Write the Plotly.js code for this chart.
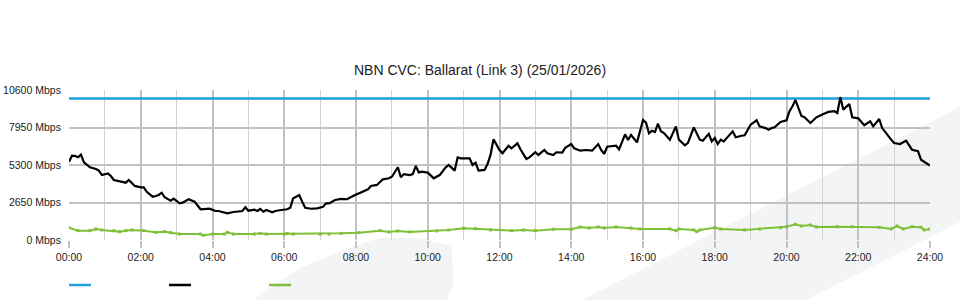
<!DOCTYPE html>
<html>
<head>
<meta charset="utf-8">
<script src="https://cdn.plot.ly/plotly-3.0.1.min.js"></script>
<style>
  html, body { margin: 0; padding: 0; background: #ffffff; }
  #chart { width: 960px; height: 300px; }
</style>
</head>
<body>
<div id="chart"></div>
<script>
// ---- data (minutes since midnight, Mbps) ----
const chartTitle = "NBN CVC: Ballarat (Link 3) (25/01/2026)";

const capacityMinutes = [0, 1440];
const capacityMbps = [10000, 10000];

const trafficMinutes = [
  0, 5, 10, 15, 20, 25, 35, 45, 50, 55, 65, 70, 75, 85, 95, 100, 110, 120, 125, 130,
  140, 145, 150, 155, 160, 170, 175, 185, 190, 200, 205, 210, 220, 230, 235, 245, 250, 265, 275, 290,
  295, 300, 310, 315, 320, 325, 330, 340, 345, 355, 365, 370, 375, 380, 385, 390, 395, 405, 415, 425,
  430, 435, 445, 455, 465, 475, 485, 500, 505, 515, 525, 535, 540, 550, 555, 560, 570, 575, 580, 585,
  590, 600, 610, 620, 630, 635, 645, 650, 655, 670, 675, 680, 685, 695, 700, 705, 710, 720, 725, 735,
  740, 750, 755, 765, 770, 780, 785, 795, 800, 810, 815, 825, 830, 840, 845, 855, 865, 875, 885, 890,
  895, 900, 915, 920, 930, 935, 940, 950, 960, 965, 970, 975, 980, 985, 990, 995, 1005, 1015, 1020, 1030,
  1035, 1045, 1055, 1060, 1070, 1075, 1080, 1085, 1090, 1095, 1110, 1115, 1125, 1130, 1140, 1150, 1155, 1165, 1170, 1175,
  1180, 1190, 1200, 1205, 1210, 1215, 1225, 1230, 1240, 1250, 1260, 1270, 1280, 1285, 1290, 1295, 1305, 1310, 1320, 1330,
  1340, 1345, 1355, 1360, 1375, 1380, 1390, 1400, 1410, 1420, 1425, 1435, 1440
];
const trafficMbps = [
  5530, 5960, 5940, 5850, 6030, 5490, 5140, 5020, 4900, 4590, 4710, 4520, 4240, 4120, 4050, 4240, 3820, 3720, 3720, 3410,
  3060, 3110, 3180, 3340, 3020, 2780, 2920, 2590, 2640, 2880, 2780, 2710, 2170, 2170, 2210, 2050, 2050, 1890, 1980, 2050,
  2310, 2070, 2140, 2050, 2190, 2000, 2120, 1960, 2050, 2120, 2170, 2280, 2950, 3060, 3180, 2710, 2280, 2210, 2240, 2350,
  2590, 2590, 2830, 2900, 2880, 3110, 3300, 3580, 3820, 3890, 4290, 4360, 4470, 5140, 4430, 4660, 4590, 4660, 5230, 4780,
  4830, 4760, 4360, 4590, 5140, 5300, 4900, 5840, 5770, 5770, 5300, 5460, 4900, 4950, 5370, 6010, 7120, 6360, 6130, 6660,
  6480, 6830, 6410, 5720, 5840, 6200, 6010, 6360, 6130, 6010, 6200, 6170, 6520, 6780, 6480, 6310, 6360, 6310, 6780, 6360,
  6080, 6590, 6660, 6410, 7470, 7070, 7420, 6900, 8480, 8290, 7540, 7720, 7630, 8220, 7680, 7560, 7090, 8030, 7090, 6690,
  6850, 7960, 7090, 7020, 7510, 6970, 7210, 6780, 7090, 6970, 7680, 7260, 7370, 7400, 8150, 8460, 8030, 7910, 7790, 7910,
  7960, 8340, 8460, 9100, 9450, 9890, 8760, 8670, 8270, 8670, 8870, 9050, 9100, 8980, 10100, 9210, 9610, 8670, 8600, 8110,
  8390, 8030, 8550, 7910, 7090, 6850, 6780, 7020, 6380, 6270, 5670, 5370, 5260
];

const upMinutes = [
  0, 15, 35, 45, 55, 75, 85, 95, 105, 125, 145, 160, 170, 185, 220, 225, 240, 260, 265, 275,
  310, 320, 330, 360, 365, 375, 420, 435, 455, 485, 520, 535, 550, 570, 615, 635, 660, 680, 705, 740,
  760, 780, 810, 840, 855, 870, 885, 895, 915, 940, 955, 1005, 1015, 1020, 1045, 1050, 1055, 1080, 1090, 1130,
  1155, 1190, 1200, 1215, 1225, 1240, 1250, 1285, 1310, 1355, 1375, 1385, 1395, 1410, 1425, 1430, 1440
];
const upMbps = [
  870, 660, 660, 780, 710, 660, 590, 660, 710, 660, 540, 590, 520, 420, 420, 330, 420, 420, 540, 420,
  420, 470, 420, 420, 470, 420, 420, 420, 470, 520, 660, 570, 640, 570, 640, 710, 830, 800, 710, 660,
  710, 660, 760, 760, 920, 850, 920, 850, 920, 850, 780, 780, 660, 780, 710, 590, 710, 870, 780, 710,
  780, 870, 940, 1110, 990, 1060, 920, 940, 940, 900, 780, 990, 780, 940, 900, 710, 780
];

const xTickVals = [0, 120, 240, 360, 480, 600, 720, 840, 960, 1080, 1200, 1320, 1440];
const xTickText = ["00:00", "02:00", "04:00", "06:00", "08:00", "10:00", "12:00", "14:00", "16:00", "18:00", "20:00", "22:00", "24:00"];
const xMinorVals = [60, 180, 300, 420, 540, 660, 780, 900, 1020, 1140, 1260, 1380];
const yTickVals = [0, 2650, 5300, 7950, 10600];
const yTickText = ["0 Mbps", "2650 Mbps", "5300 Mbps", "7950 Mbps", "10600 Mbps"];

// ---- colours ----
const blue = "#1fa0dd";
const black = "#000000";
const green = "#7fc03a";

// plot area in pixels (for decorative shapes)
const L = 69, R = 930, T = 90, B = 240;
const px = x => (x - L) / (R - L);
const py = y => (B - y) / (B - T);
function pathFrom(pts) {
  return "M" + pts.map(p => px(p[0]).toFixed(4) + "," + py(p[1]).toFixed(4)).join(" L") + " Z";
}

const traces = [
  { x: capacityMinutes, y: capacityMbps, type: "scatter", mode: "lines",
    line: { color: blue, width: 2.5 }, hoverinfo: "skip", showlegend: false },
  { x: upMinutes, y: upMbps, type: "scatter", mode: "lines+markers",
    line: { color: green, width: 2 }, marker: { color: green, size: 3, symbol: "square" },
    hoverinfo: "skip", showlegend: false },
  { x: trafficMinutes, y: trafficMbps, type: "scatter", mode: "lines",
    line: { color: black, width: 2.2 }, hoverinfo: "skip", showlegend: false }
];

const shapes = [
  // faint background swooshes
  { type: "path", xref: "paper", yref: "paper", layer: "below", line: { width: 0 }, fillcolor: "#f3f4f6",
    path: pathFrom([[253, 300], [300, 268], [343, 250], [380, 238], [420, 238], [452, 246], [453, 286], [447, 300]]) },
  { type: "path", xref: "paper", yref: "paper", layer: "below", line: { width: 0 }, fillcolor: "#f3f4f6",
    path: pathFrom([[582, 300], [960, 107], [960, 222], [806, 300]]) },
  // legend swatches
  { type: "line", xref: "paper", yref: "paper", x0: px(69), x1: px(91), y0: py(285), y1: py(285), line: { color: blue, width: 2.5 } },
  { type: "line", xref: "paper", yref: "paper", x0: px(169), x1: px(191), y0: py(285), y1: py(285), line: { color: black, width: 2.5 } },
  { type: "line", xref: "paper", yref: "paper", x0: px(269), x1: px(291), y0: py(285), y1: py(285), line: { color: green, width: 2.5 } }
];

const layout = {
  width: 960, height: 300,
  margin: { l: L, r: 960 - R, t: T, b: 300 - B, pad: 0 },
  paper_bgcolor: "#ffffff",
  plot_bgcolor: "rgba(0,0,0,0)",
  font: { family: "Liberation Sans, Arial, sans-serif", size: 10.5, color: "#222222" },
  title: { text: chartTitle, x: 0.5, xanchor: "center", y: 1 - 70.5 / 300, yanchor: "middle",
           font: { family: "Liberation Sans, Arial, sans-serif", size: 14, color: "#222222" } },
  showlegend: false,
  xaxis: {
    range: [0, 1440], fixedrange: true,
    tickmode: "array", tickvals: xTickVals, ticktext: xTickText,
    ticks: "outside", ticklen: 7, tickwidth: 2, tickcolor: "#c2c2c2",
    showgrid: true, gridcolor: "#c2c2c2", gridwidth: 2,
    minor: { tickmode: "array", tickvals: xMinorVals, showgrid: true, gridcolor: "#d2d2d2", gridwidth: 1, ticks: "" },
    zeroline: false, showline: false,
    tickfont: { size: 10.5, color: "#222222" }
  },
  yaxis: {
    range: [0, 10600], fixedrange: true,
    tickmode: "array", tickvals: yTickVals, ticktext: yTickText,
    ticks: "outside", ticklen: 5, tickcolor: "rgba(0,0,0,0)",
    showgrid: true, gridcolor: "#c2c2c2", gridwidth: 2,
    zeroline: false, showline: false,
    tickfont: { size: 10.5, color: "#222222" }
  },
  shapes: shapes
};

Plotly.newPlot("chart", traces, layout, { displayModeBar: false, staticPlot: true });
</script>
</body>
</html>
